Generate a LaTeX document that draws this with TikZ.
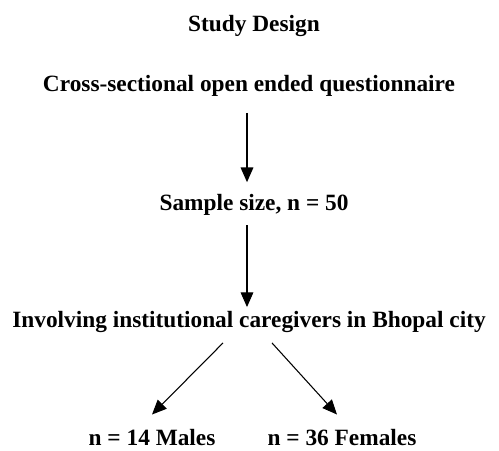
\documentclass[tikz,border=0pt]{standalone}
\usepackage{fontspec}
\setmainfont{Liberation Serif}
\usetikzlibrary{arrows.meta}

\begin{document}
\begin{tikzpicture}[x=0.75pt, y=-0.75pt,
		every node/.style={font=\bfseries\fontsize{17.5}{20}\selectfont, inner sep=0pt},
		arr/.style={-{Triangle[width=9.5pt,length=11pt]}, line width=0.8pt}]
			\useasboundingbox (0,0) rectangle (499,450);
			\node (title) at (254,26) {Study Design};
			\node (design) at (249,86) {Cross-sectional open ended questionnaire};
			\node (sample) at (254,205) {Sample size, n = 50};
			\node (involve) at (249,322) {Involving institutional caregivers in Bhopal city};
			\node (males) at (152,438) {n = 14 Males};
			\node (females) at (342,438) {n = 36 Females};
			\draw[arr, shorten <=12pt, shorten >=9pt] (design.south -| 247,0) -- (sample.north -| 247,0);
			\draw[arr, shorten <=7pt, shorten >=3pt] (sample.south -| 247,0) -- (involve.north -| 247,0);
			\draw[arr] ([shift={(-26,10)}]involve.south) -- ([shift={(0,-15)}]males.north);
			\draw[arr] ([shift={(23,10)}]involve.south) -- ([shift={(-5,-15)}]females.north);
		\end{tikzpicture}
\end{document}
